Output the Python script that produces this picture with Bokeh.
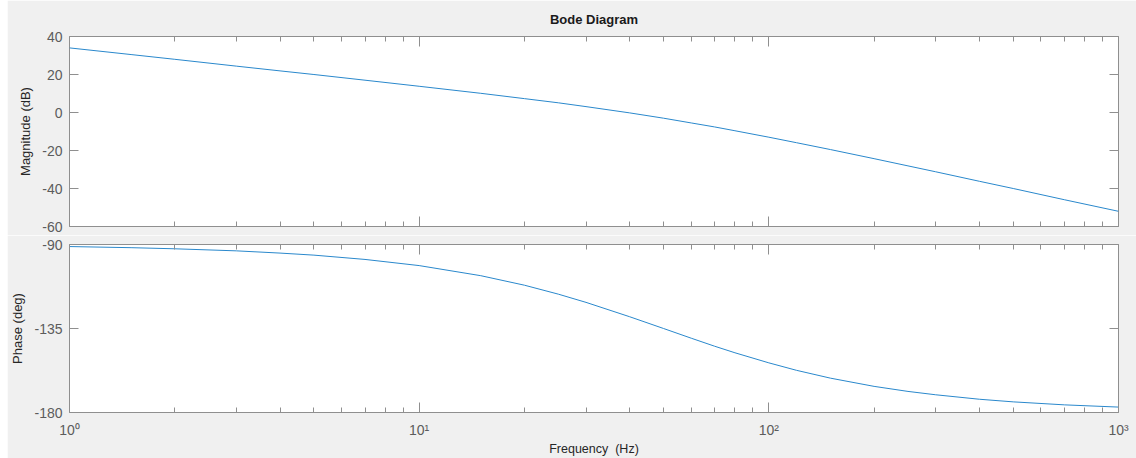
from bokeh.plotting import figure
from bokeh.models import LinearAxis, LogAxis, FixedTicker, Range1d, Spacer
from bokeh.layouts import column, row
from bokeh.embed import file_html
from bokeh.resources import INLINE

# ---- data ----
freq_hz = [1, 1.5, 2, 3, 4, 5, 7, 10, 15, 20, 25, 30, 40, 50, 60, 70, 80, 100,
           120, 150, 200, 250, 300, 400, 500, 700, 1000]
magnitude_db = [34.0, 30.5, 28.0, 24.4, 21.9, 20.0, 17.0, 13.8, 10.1, 7.3, 5.1, 3.1,
                -0.2, -3.0, -5.5, -7.6, -9.6, -13.0, -15.9, -19.5, -24.3, -28.1,
                -31.2, -36.2, -40.0, -45.9, -52.0]
phase_deg = [-91.1, -91.7, -92.3, -93.4, -94.6, -95.7, -98.0, -101.3, -106.7, -111.8,
             -116.6, -121.0, -128.7, -135.0, -140.2, -144.5, -148.0, -153.4, -157.4,
             -161.6, -166.0, -168.7, -170.5, -172.9, -174.3, -175.9, -177.1]

x_major = [1, 10, 100, 1000]
x_minor = [2, 3, 4, 5, 6, 7, 8, 9, 20, 30, 40, 50, 60, 70, 80, 90,
           200, 300, 400, 500, 600, 700, 800, 900]
x_labels = {1: "10\u2070", 10: "10\u00b9", 100: "10\u00b2", 1000: "10\u00b3"}
mag_ticks = [-60, -40, -20, 0, 20, 40]
mag_labels = {-60: "-60", -40: "-40", -20: "-20", 0: "0", 20: "20", 40: "40"}
phase_ticks = [-180, -135, -90]
phase_labels = {-180: "-180", -135: "-135", -90: "-90"}

TITLE = "Bode Diagram"
MAG_LABEL = "Magnitude (dB)"
PHASE_LABEL = "Phase (deg)"
FREQ_LABEL = "Frequency\u00a0 (Hz)"

BG = "#f0f0f0"
BOX = "#8f8f8f"
TICKLAB = "#5c5c5c"
TXT = "#262626"
LINE = "#2a88cc"
FONT = "Liberation Sans"


def style_axis(ax, show_labels, tick_in=10):
    ax.axis_line_color = None
    ax.major_tick_in = tick_in
    ax.major_tick_out = 0
    ax.minor_tick_in = 5
    ax.minor_tick_out = 0
    ax.major_tick_line_color = BOX
    ax.minor_tick_line_color = BOX
    ax.major_label_text_font = FONT
    ax.axis_label_text_font = FONT
    ax.axis_label_text_font_style = "normal"
    ax.axis_label_text_color = TXT
    ax.axis_label_text_font_size = "13px"
    if show_labels:
        ax.major_label_text_font_size = "14px"
        ax.major_label_text_color = TICKLAB
        ax.major_label_standoff = 7
    else:
        ax.major_label_text_font_size = "1px"
        ax.major_label_text_color = None
        ax.major_label_standoff = 0


def make_fig(height, yr, yticks, ylabels, top, bottom):
    p = figure(width=1129, height=height, x_axis_type="log",
               x_range=Range1d(1, 1000), y_range=Range1d(*yr),
               output_backend="svg", toolbar_location=None,
               min_border_left=61, min_border_right=18,
               min_border_top=top, min_border_bottom=bottom,
               background_fill_color="white", border_fill_color=BG,
               outline_line_color=BOX, outline_line_width=1)
    p.grid.visible = False
    xt = FixedTicker(ticks=x_major, minor_ticks=x_minor)
    yt = FixedTicker(ticks=yticks, minor_ticks=[])
    p.xaxis.ticker = xt
    p.yaxis.ticker = yt
    top_ax = LogAxis(ticker=xt)
    right_ax = LinearAxis(ticker=yt)
    p.add_layout(top_ax, "above")
    p.add_layout(right_ax, "right")
    style_axis(top_ax, False)
    style_axis(right_ax, False, tick_in=9)
    for ax in p.yaxis:
        if ax is not right_ax:
            style_axis(ax, True, tick_in=9)
            ax.major_label_overrides = ylabels
            ax.axis_label_standoff = 6
    return p, top_ax


# ---- magnitude panel ----
p1, p1_top = make_fig(235, (-60, 40), mag_ticks, mag_labels, 35, 9)
for ax in p1.xaxis:
    if ax is not p1_top:
        style_axis(ax, False)
p1.yaxis[0].axis_label = MAG_LABEL
p1.title.text = TITLE
p1.title.align = "center"
p1.title.text_font = FONT
p1.title.text_font_size = "13px"
p1.title.text_font_style = "bold"
p1.title.text_color = "#1a1a1a"
p1.title.standoff = 19
p1.line(freq_hz, magnitude_db, line_color=LINE, line_width=1)

# ---- phase panel ----
p2, p2_top = make_fig(223, (-180, -90), phase_ticks, phase_labels, 9, 46)
for ax in p2.xaxis:
    if ax is not p2_top:
        style_axis(ax, True)
        ax.major_label_overrides = x_labels
        ax.major_label_text_font_size = "14px"
        ax.major_label_standoff = 9
        ax.axis_label = FREQ_LABEL
        ax.axis_label_text_font_size = "12.5px"
        ax.axis_label_standoff = 1
p2.yaxis[0].axis_label = PHASE_LABEL
p2.line(freq_hz, phase_deg, line_color=LINE, line_width=1)

layout = row(Spacer(width=7, height=458),
             column(p1, p2, spacing=0),
             spacing=0)
open("out.html", "w").write(file_html(layout, INLINE))
